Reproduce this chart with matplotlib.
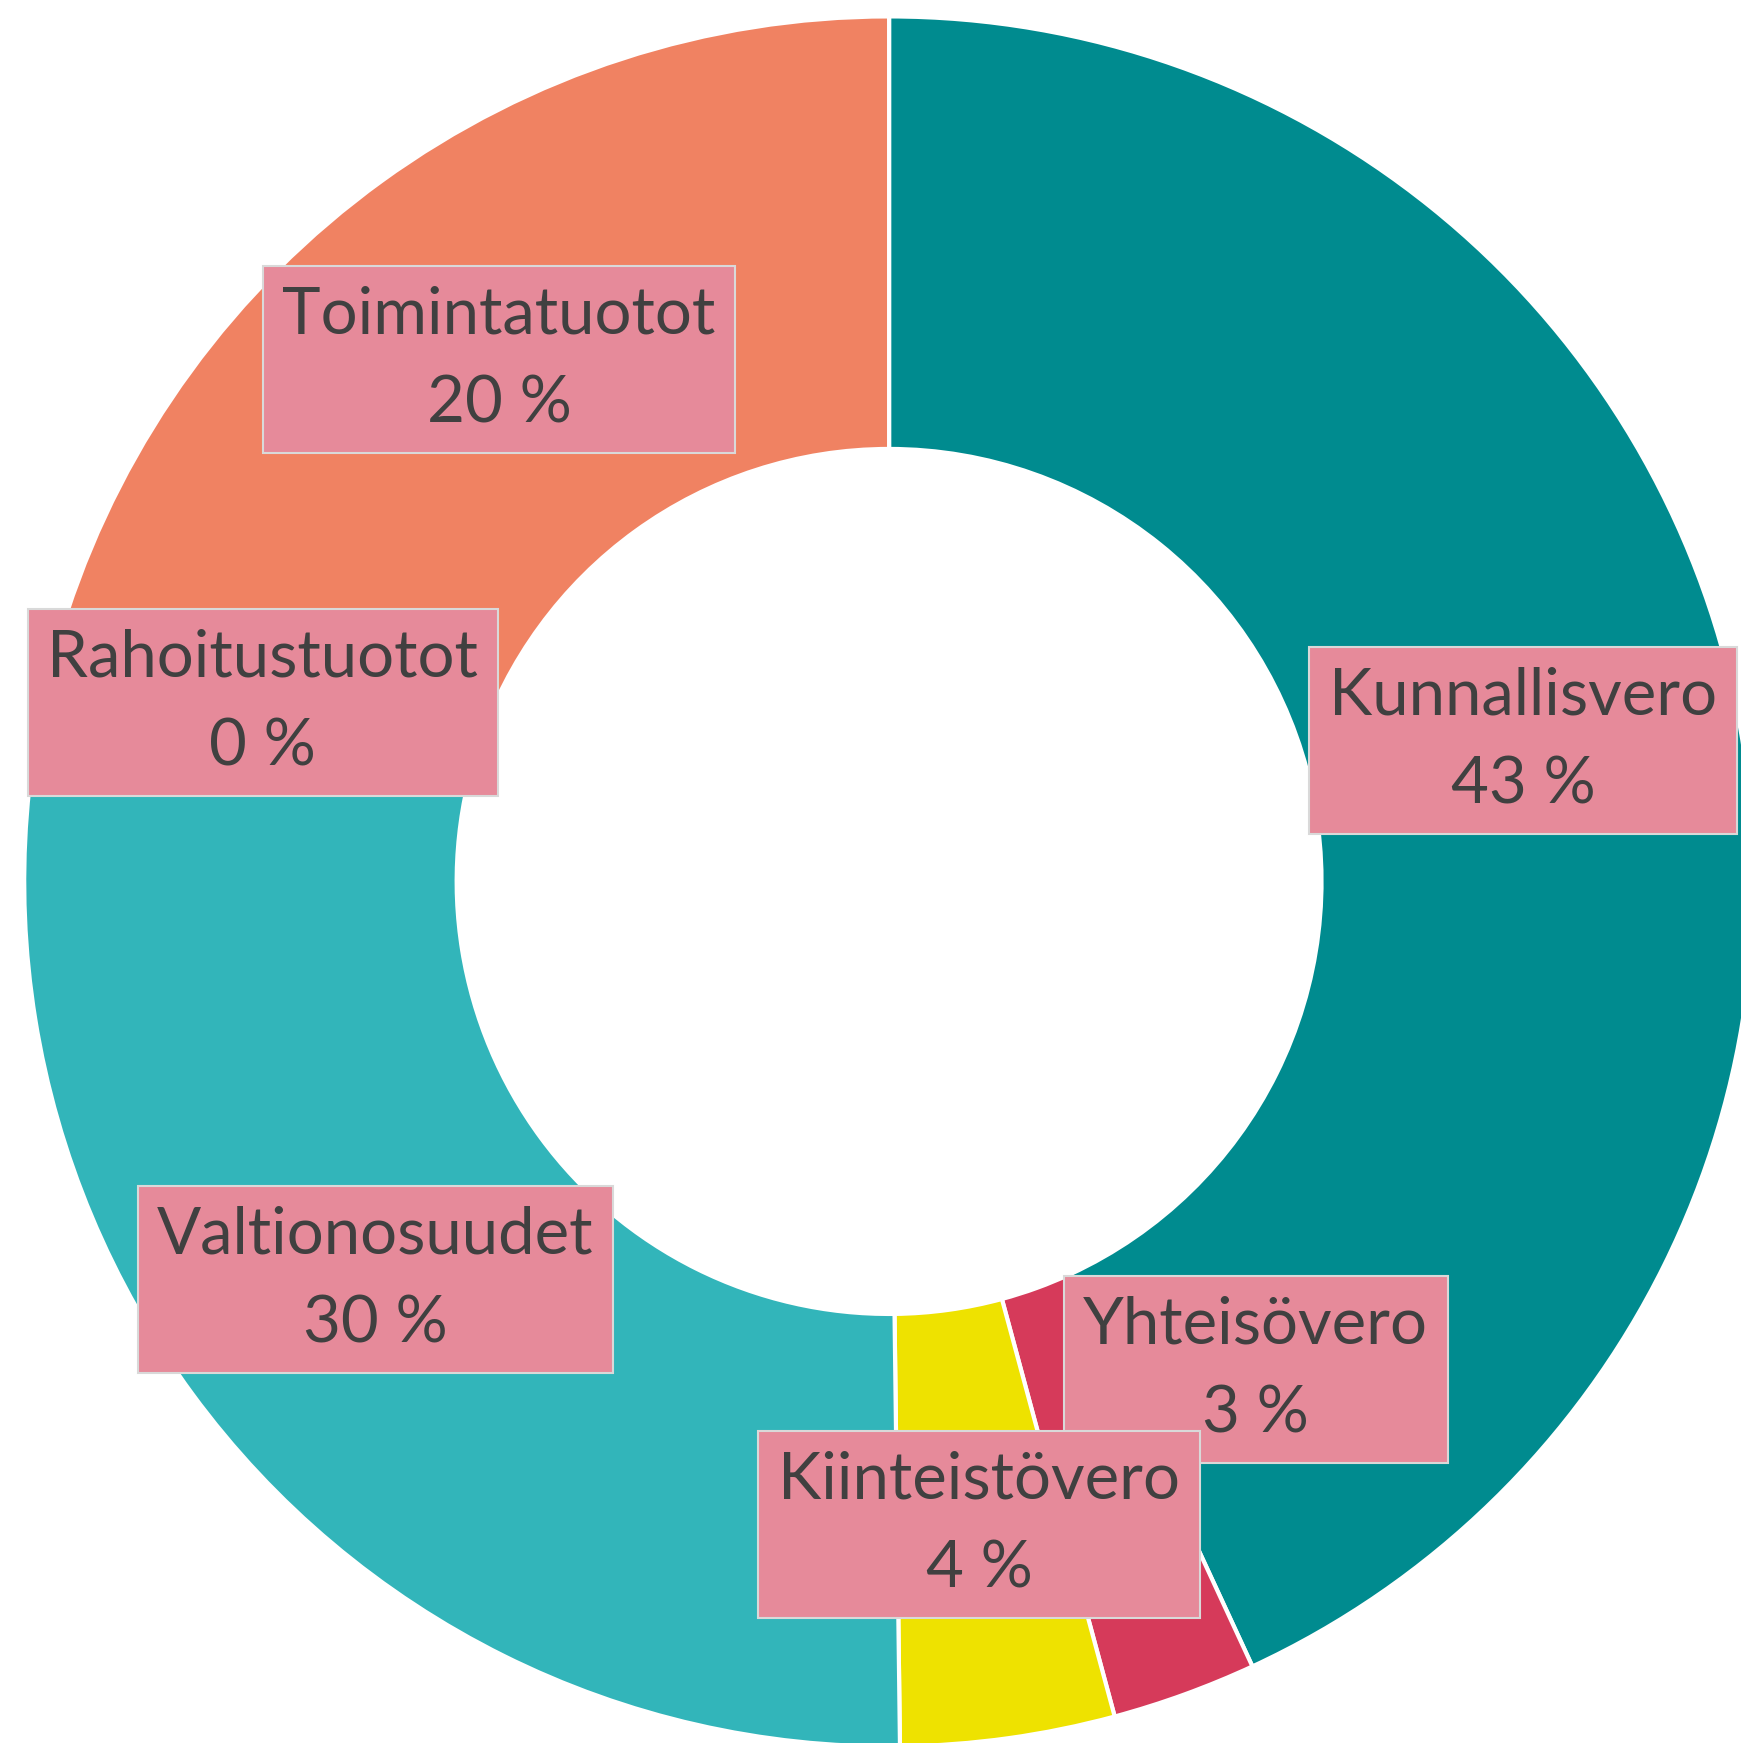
import numpy as np
import matplotlib.pyplot as plt

# Tulojen jakauma (%)
categories = ["Kunnallisvero", "Yhteisövero", "Kiinteistövero",
              "Valtionosuudet", "Rahoitustuotot", "Toimintatuotot"]
values = [43.1, 2.7, 4.0, 30.2, 0.05, 19.95]
colors = ["#008B8F", "#D63A5A", "#EEE200", "#32B5BA", "#7FB069", "#F08262"]

# label positions (moved by hand in the original)
label_pos = [(0.733, 0.163), (0.424, -0.564), (0.104, -0.743),
             (-0.594, -0.460), (-0.724, 0.207), (-0.451, 0.603)]

fig = plt.figure(figsize=(17.41, 17.43), dpi=100)
ax = fig.add_axes([0, 0, 1, 1])

wedges, _ = ax.pie(values, colors=colors, startangle=90, counterclock=False,
                   radius=1.0,
                   wedgeprops=dict(width=0.5, edgecolor="white", linewidth=3))

for name, v, (x, y) in zip(categories, values, label_pos):
    ax.text(x, y, f"{name}\n{round(v)} %", ha="center", va="center",
            fontsize=47, family="Lato", color="#404040", linespacing=1.62,
            bbox=dict(boxstyle="square,pad=0.3", facecolor="#E68A9A",
                      edgecolor="#D9D9D9", linewidth=1.5))

ax.set_xlim(-1.028, 0.985)
ax.set_ylim(-0.996, 1.019)
ax.set_aspect("auto")
ax.axis("off")

fig.savefig("out.png", dpi=100)
